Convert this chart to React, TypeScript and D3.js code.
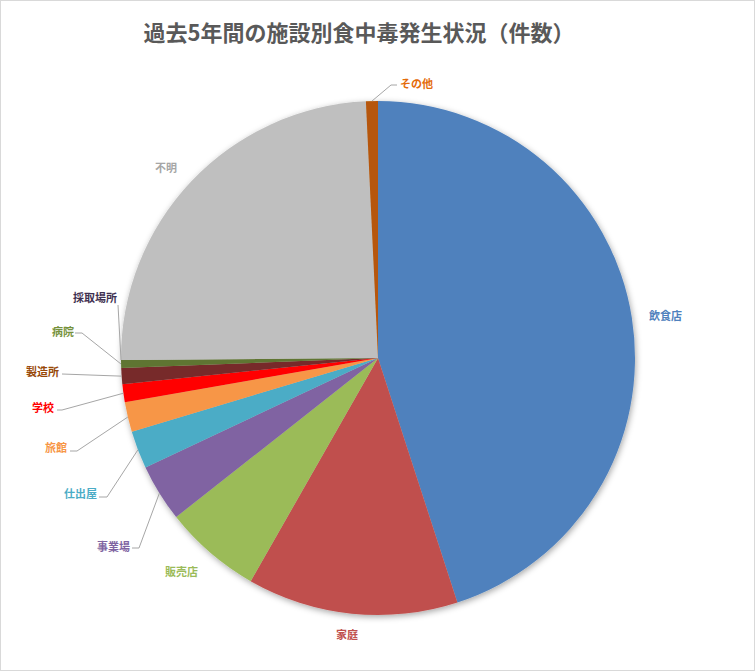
import { useEffect, useRef } from "react";
import * as d3 from "d3";

// facility categories, clockwise from 12 o'clock
const categories = [
  "飲食店",
  "家庭",
  "販売店",
  "事業場",
  "仕出屋",
  "旅館",
  "学校",
  "製造所",
  "病院",
  "採取場所",
  "不明",
  "その他",
];
// number of cases (採取場所 shows no visible slice)
const counts = [360, 106, 49, 29, 19, 15, 9, 8, 4, 0, 195, 6];

const sliceColors = [
  "#4F81BD",
  "#C0504D",
  "#9BBB59",
  "#8064A2",
  "#4BACC6",
  "#F79646",
  "#FF0000",
  "#772C2A",
  "#5F7530",
  "#4D3B62",
  "#BFBFBF",
  "#B65708",
];
const labelColors = [
  "#4F81BD",
  "#C0504D",
  "#9BBB59",
  "#8064A2",
  "#4BACC6",
  "#F79646",
  "#FF0000",
  "#984807",
  "#76923C",
  "#3F3151",
  "#A6A6A6",
  "#E46C0A",
];

const title = "過去5年間の施設別食中毒発生状況（件数）";

// where the data labels sit (text start x, centre y) and the elbow of their leader line
const labelLayout: { x: number; y: number; elbow?: [number, number]; tick?: number }[] = [
  { x: 649, y: 315 },
  { x: 336, y: 634 },
  { x: 165, y: 571 },
  { x: 97, y: 546, elbow: [139, 548], tick: 132 },
  { x: 64, y: 493, elbow: [107, 497], tick: 99 },
  { x: 45, y: 447, elbow: [77, 451], tick: 70 },
  { x: 32, y: 407, elbow: [62, 410], tick: 57 },
  { x: 26, y: 371, elbow: [62, 374], tick: 62 },
  { x: 52, y: 331, elbow: [82, 333], tick: 75 },
  { x: 73, y: 297, elbow: [118, 305], tick: 118 },
  { x: 155, y: 167 },
  { x: 400, y: 83, elbow: [391, 85], tick: 397 },
];

const FONT = "'Noto Sans CJK JP', 'Noto Sans', sans-serif";

export default function App() {
  const ref = useRef<SVGSVGElement | null>(null);

  useEffect(() => {
    const width = 756;
    const height = 672;
    const cx = 378;
    const cy = 358;
    const radius = 257;

    const svg = d3.select(ref.current);
    svg.selectAll("*").remove();
    svg.attr("width", width).attr("height", height);

    const defs = svg.append("defs");
    const filter = defs
      .append("filter")
      .attr("id", "pieShadow")
      .attr("x", "-10%")
      .attr("y", "-10%")
      .attr("width", "120%")
      .attr("height", "120%");
    filter
      .append("feDropShadow")
      .attr("dx", 1)
      .attr("dy", 2)
      .attr("stdDeviation", 3)
      .attr("flood-color", "#000")
      .attr("flood-opacity", 0.35);

    svg
      .append("rect")
      .attr("x", 0.5)
      .attr("y", 0.5)
      .attr("width", width - 2)
      .attr("height", height - 2)
      .attr("fill", "#fff")
      .attr("stroke", "#D9D9D9");

    svg
      .append("text")
      .attr("x", 359)
      .attr("y", 31)
      .attr("text-anchor", "middle")
      .attr("dominant-baseline", "central")
      .attr("font-family", FONT)
      .attr("font-weight", "bold")
      .attr("font-size", 22)
      .attr("fill", "#595959")
      .text(title);

    const data = categories.map((c, i) => ({ label: c, value: counts[i], i }));
    type D = (typeof data)[number];

    const pie = d3
      .pie<D>()
      .sort(null)
      .value((d) => d.value);
    const arcs = pie(data);

    const arc = d3.arc<d3.PieArcDatum<D>>().innerRadius(0).outerRadius(radius);

    const g = svg.append("g").attr("transform", `translate(${cx}, ${cy})`);

    g.append("g")
      .attr("filter", "url(#pieShadow)")
      .selectAll("path")
      .data(arcs)
      .enter()
      .append("path")
      .attr("d", arc)
      .attr("fill", (d) => sliceColors[d.data.i]);

    // leader lines
    arcs.forEach((d) => {
      const lay = labelLayout[d.data.i];
      if (!lay.elbow) return;
      const mid = (d.startAngle + d.endAngle) / 2;
      const px = cx + radius * Math.sin(mid);
      const py = cy - radius * Math.cos(mid);
      const pts: [number, number][] = [
        [lay.tick!, lay.elbow[1]],
        lay.elbow,
        [px, py],
      ];
      svg
        .append("path")
        .attr("d", d3.line()(pts))
        .attr("fill", "none")
        .attr("stroke", "#A6A6A6")
        .attr("stroke-width", 1);
    });

    svg
      .append("g")
      .selectAll("text")
      .data(arcs)
      .enter()
      .append("text")
      .attr("x", (d) => labelLayout[d.data.i].x)
      .attr("y", (d) => labelLayout[d.data.i].y)
      .attr("dominant-baseline", "central")
      .attr("font-family", FONT)
      .attr("font-weight", "bold")
      .attr("font-size", 11)
      .attr("fill", (d) => labelColors[d.data.i])
      .text((d) => d.data.label);
  }, []);

  return (
    <div style={{ position: "fixed", left: 0, top: 0 }}>
      <svg ref={ref}></svg>
    </div>
  );
}
